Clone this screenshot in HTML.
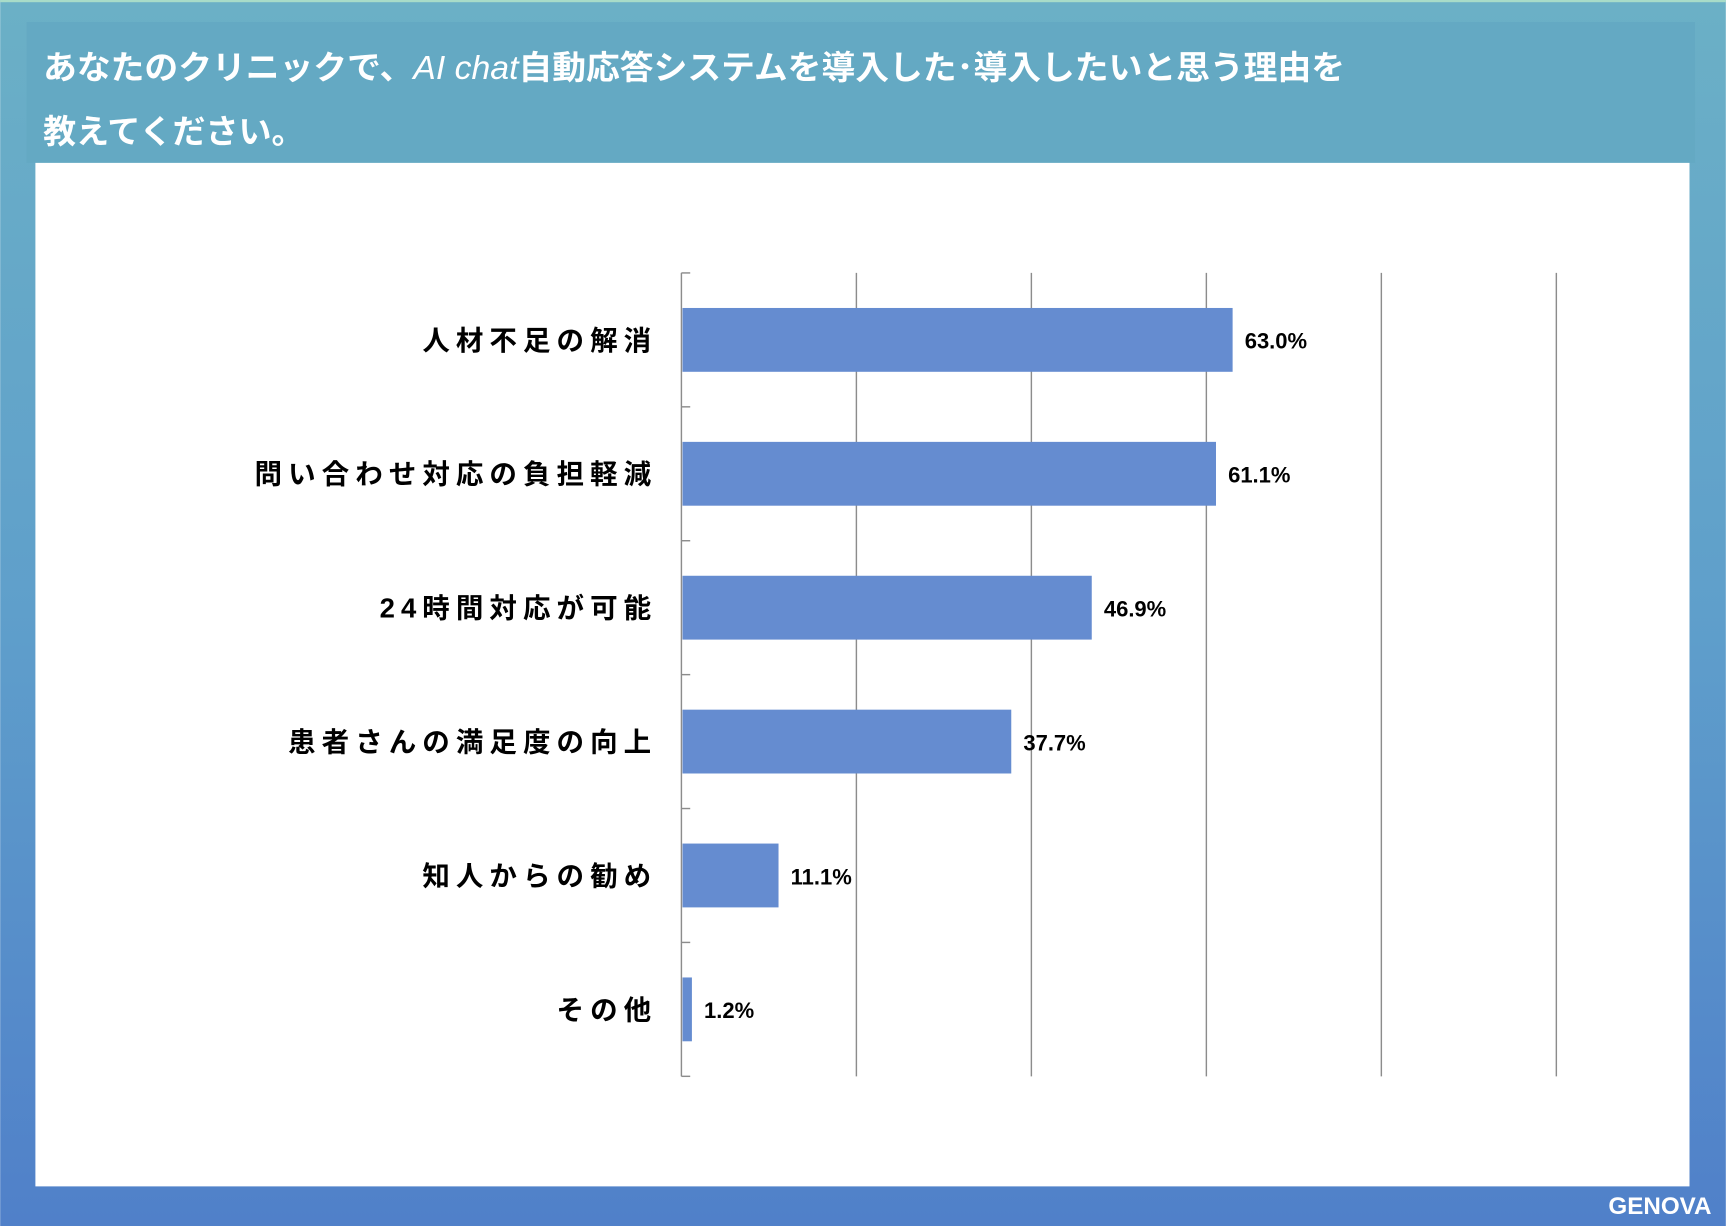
<!DOCTYPE html>
<html><head><meta charset="utf-8"><style>
html,body{margin:0;padding:0;width:1726px;height:1226px;overflow:hidden}
svg{display:block}
.t{font-family:"Liberation Sans","Noto Sans CJK JP",sans-serif}
</style></head><body>
<svg id="c" width="1726" height="1226" viewBox="0 0 1568 1114">
<defs><linearGradient id="bg" x1="0" y1="0" x2="0" y2="1"><stop offset="0" stop-color="#6bb0c6"/><stop offset="0.5" stop-color="#5f9fcb"/><stop offset="1" stop-color="#5080c9"/></linearGradient></defs>
<rect width="1568" height="1114" fill="url(#bg)"/>
<rect width="1568" height="2" fill="#a8dcc8"/>
<rect x="24" y="20" width="1516" height="128" fill="#64a9c3"/>
<text class="t" x="39" y="72" font-size="30" font-weight="bold" fill="#fff" textLength="1183" lengthAdjust="spacingAndGlyphs">あなたのクリニックで、<tspan font-style="italic" font-weight="normal">AI chat</tspan>自動応答システムを導入した･導入したいと思う理由を</text>
<text class="t" x="39" y="130" font-size="30" font-weight="bold" fill="#fff">教えてください。</text>
<rect x="32" y="148" width="1503" height="930" fill="#fff"/>
<g id="grid"></g><g id="bars"></g>
<text class="t" x="1555" y="1103" text-anchor="end" font-size="22" font-weight="bold" fill="#fff">GENOVA</text>
</svg>
<script>
const categories=["人材不足の解消","問い合わせ対応の負担軽減","24時間対応が可能","患者さんの満足度の向上","知人からの勧め","その他"];
const values=[63.0,61.1,46.9,37.7,11.1,1.2];
const labels=["63.0%","61.1%","46.9%","37.7%","11.1%","1.2%"];
const ticks=[0,20,40,60,80,100];
const NS="http://www.w3.org/2000/svg";
const X0=619,X1=1414,Y0=248,Y1=978;
const x=v=>X0+(v/100)*(X1-X0);
const band=(Y1-Y0)/categories.length;
function mk(t,a,p){const e=document.createElementNS(NS,t);for(const k in a)e.setAttribute(k,a[k]);p.appendChild(e);return e;}
const g=document.getElementById('grid'),b=document.getElementById('bars');
ticks.forEach((t,i)=>{const l=mk('line',{x1:x(t),x2:x(t),y1:Y0,y2:Y1,stroke:'#8c8c8c','stroke-width':1.3},g);

});
for(let i=0;i<=categories.length;i++){const l=mk('line',{x1:X0,x2:X0+8,y1:Y0+i*band,y2:Y0+i*band,stroke:'#8c8c8c','stroke-width':1.3},g);

}
categories.forEach((c,i)=>{const cy=Y0+band*(i+0.5);
const r=mk('rect',{x:X0+1,y:cy-29,width:x(values[i])-X0-1,height:58,fill:'#658cd0'},b);


const t=mk('text',{class:'t',x:597,y:cy+9,'text-anchor':'end','font-size':25,'font-weight':'bold',fill:'#000','letter-spacing':5.5},b);t.textContent=c;


const v=mk('text',{class:'t',x:x(values[i])+11,y:cy+8,'font-size':20,'font-weight':'bold',fill:'#000'},b);v.textContent=labels[i];

});
</script>
</body></html>
